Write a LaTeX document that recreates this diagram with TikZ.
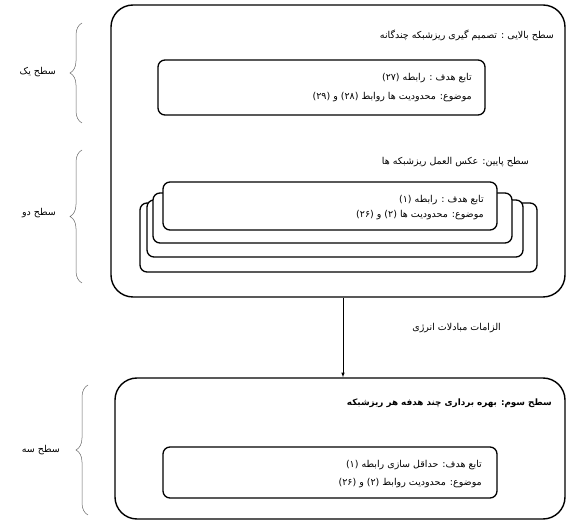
\documentclass[tikz,border=0pt]{standalone}
\usepackage{fontspec}
\newfontfamily\farsi[Script=Arabic]{DejaVu Sans}
\TeXXeTstate=1
\usetikzlibrary{decorations.pathreplacing}
\tikzset{
  bigbox/.style={draw, line width=1.4pt, rounded corners=22pt, inner sep=0pt},
  smallbox/.style={draw, fill=white, line width=1.3pt, rounded corners=7pt, inner sep=0pt},
  fatxt/.style={font=\farsi\fontsize{9.5}{11}\selectfont, inner sep=1pt, anchor=east},
  lvlbrace/.style={draw=black!60, line width=0.5pt, decorate, decoration={brace, amplitude=12pt}},
}
\begin{document}
\begin{tikzpicture}[x=1pt, y=-1pt]
	\useasboundingbox (0,0) rectangle (566,521);
	% level one and two
	\node [bigbox, minimum width=454, minimum height=292] (upperbox) at (338,151) {};
	\node [fatxt] (upperhead) at (555,35) {\beginR سطح بالایی : تصمیم گیری ریزشبکه چندگانه\endR};
	\node [smallbox, minimum width=327, minimum height=55] (upperobj) at (321.5,87.5) {};
	\node [fatxt] (upperline1) at (473,78) {\beginR تابع هدف : رابطه (۲۷)\endR};
	\node [fatxt] (upperline2) at (473,97) {\beginR موضوع: محدودیت ها روابط (۲۸) و (۲۹)\endR};
	\node [fatxt] (lowerhead) at (530,162) {\beginR سطح پایین: عکس العمل ریزشبکه ها\endR};
	\node [smallbox, minimum width=397, minimum height=69] (lowerobj4) at (338.5,237.5) {};
	\node [smallbox, minimum width=376, minimum height=57] (lowerobj3) at (335,228.5) {};
	\node [smallbox, minimum width=359, minimum height=50] (lowerobj2) at (332.5,218) {};
	\node [smallbox, minimum width=334, minimum height=48] (lowerobj1) at (330,206) {};
	\node [fatxt] (lowerline1) at (485,200) {\beginR تابع هدف : رابطه (۱)\endR};
	\node [fatxt] (lowerline2) at (485,215) {\beginR موضوع: محدودیت ها (۲) و (۲۶)\endR};
	% level three
	\node [bigbox, minimum width=450, minimum height=141] (thirdbox) at (340,448.5) {};
	\node [fatxt, font=\farsi\bfseries\fontsize{8.8}{11}\selectfont] (thirdhead) at (553,403) {\beginR سطح سوم: بهره برداری چند هدفه هر ریزشبکه\endR};
	\node [smallbox, minimum width=334, minimum height=51] (thirdobj) at (330,472.5) {};
	\node [fatxt] (thirdline1) at (483,465) {\beginR تابع هدف: حداقل سازی رابطه (۱)\endR};
	\node [fatxt] (thirdline2) at (483,483) {\beginR موضوع: محدودیت روابط (۲) و (۲۶)\endR};
	% exchange arrow
	\draw [-latex, line width=0.6pt] ([xshift=5pt]upperbox.south) -- ([xshift=5pt]upperbox.south |- thirdbox.north);
	\node [fatxt] (exchange) at (502,328) {\beginR الزامات مبادلات انرژی\endR};
	% braces
	\draw [lvlbrace] (82,123) -- (82,23);
	\node [fatxt] (levelone) at (57,72) {\beginR سطح یک\endR};
	\draw [lvlbrace] (82,283) -- (82,150);
	\node [fatxt] (leveltwo) at (57,213) {\beginR سطح دو\endR};
	\draw [lvlbrace] (88,515) -- (88,385);
	\node [fatxt] (levelthree) at (61,450) {\beginR سطح سه\endR};
\end{tikzpicture}
\end{document}
